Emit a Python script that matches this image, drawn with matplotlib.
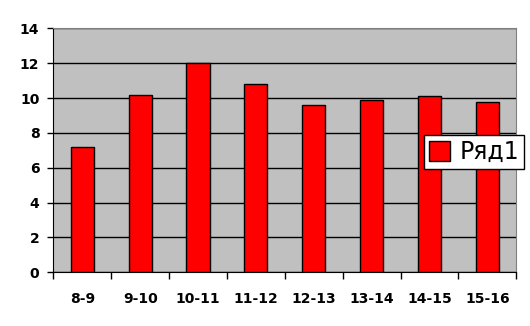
import matplotlib as mpl
mpl.use('Agg')
import matplotlib.pyplot as plt

# данные
periods = ['8-9', '9-10', '10-11', '11-12', '12-13', '13-14', '14-15', '15-16']
values = [7.2, 10.2, 12.0, 10.8, 9.6, 9.9, 10.1, 9.75]
yticks = [0, 2, 4, 6, 8, 10, 12, 14]

fig = plt.figure(figsize=(5.3, 3.26), dpi=100)
ax = fig.add_axes([0.1006, 0.1647, 0.8736, 0.7483])
ax.set_facecolor('#c0c0c0')

x = range(len(periods))
ax.bar(x, values, width=0.4, color='#ff0000', edgecolor='black', linewidth=1,
       label='Ряд1', zorder=3)

ax.set_xlim(-0.5, len(periods) - 0.5)
ax.set_ylim(0, 14)
ax.set_yticks(yticks)
ax.set_yticklabels([str(v) for v in yticks], fontsize=10, fontweight='bold')
ax.yaxis.grid(True, color='black', linewidth=1, zorder=1)

# подписи категорий по центру, засечки на границах
ax.set_xticks([i - 0.5 for i in range(len(periods) + 1)])
ax.set_xticklabels([])
ax.set_xticks(list(x), minor=True)
ax.set_xticklabels(periods, minor=True, fontsize=10, fontweight='bold')
ax.tick_params(axis='x', which='minor', length=0, pad=14)
ax.tick_params(axis='x', which='major', length=5, width=1, direction='out')
ax.tick_params(axis='y', length=4, width=1, direction='out', pad=6)

for s in ['top', 'right']:
    ax.spines[s].set_color('#808080')
for s in ['left', 'bottom']:
    ax.spines[s].set_color('black')

leg = ax.legend(loc='center', bbox_to_anchor=(0.895, 0.534),
                bbox_transform=fig.transFigure, fontsize=17, fancybox=False,
                framealpha=1, edgecolor='black', borderpad=0.2,
                handlelength=0.9, handleheight=0.9, handletextpad=0.4,
                borderaxespad=0)
leg.get_frame().set_linewidth(1)

fig.savefig('out.png', dpi=100)
